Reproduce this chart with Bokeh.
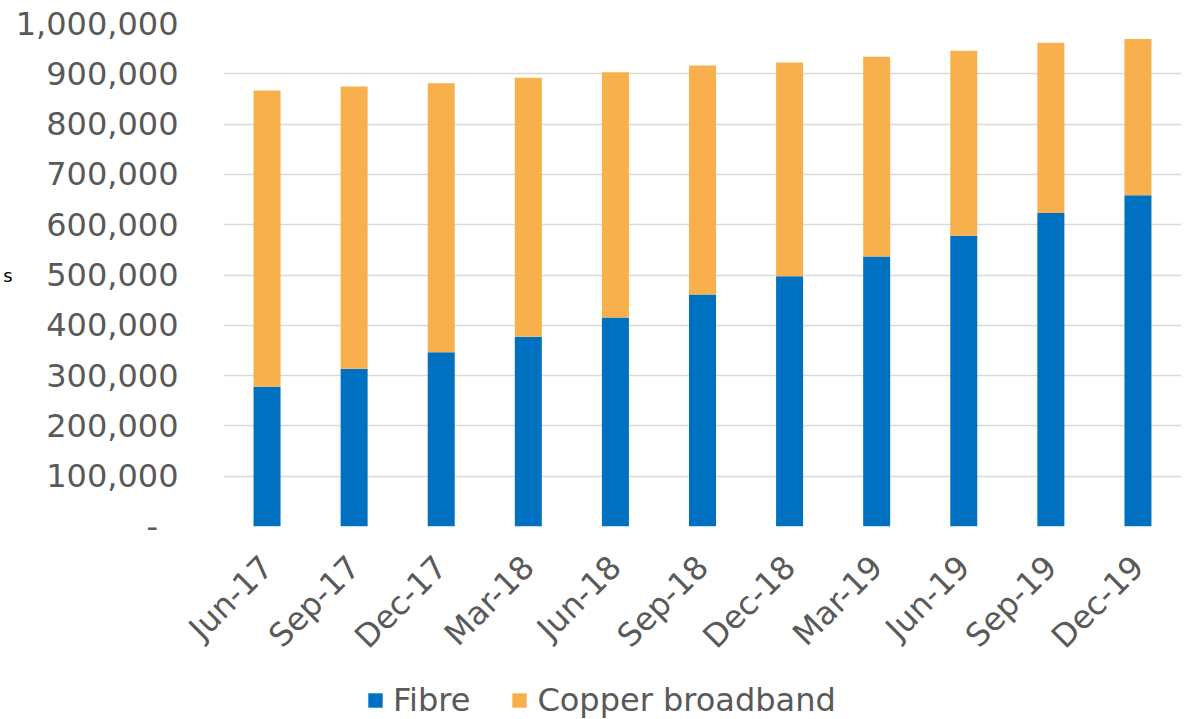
import math
from bokeh.plotting import figure
from bokeh.layouts import column
from bokeh.models import (FactorRange, Range1d, FixedTicker, Legend, LegendItem,
                          ColumnDataSource)
from bokeh.embed import file_html
from bokeh.resources import INLINE

quarters = ["Jun-17", "Sep-17", "Dec-17", "Mar-18", "Jun-18", "Sep-18",
            "Dec-18", "Mar-19", "Jun-19", "Sep-19", "Dec-19"]
fibre = [278000, 313500, 346500, 377000, 415500, 461000,
         497600, 537000, 578000, 623500, 658600]
copper = [589000, 561500, 534500, 515000, 487500, 455500,
          425000, 397000, 368000, 338000, 310400]
y_ticks = [0, 100000, 200000, 300000, 400000, 500000,
           600000, 700000, 800000, 900000, 1000000]
y_tick_labels = ["-\u00a0\u00a0", "100,000", "200,000", "300,000", "400,000", "500,000",
                 "600,000", "700,000", "800,000", "900,000", "1,000,000"]
series_names = ["Fibre", "Copper broadband"]
series_colors = ["#0070C0", "#F7B04B"]

FONT = "DejaVu Sans"
TXT = "#595959"
FS = "32px"

src = ColumnDataSource(dict(quarter=quarters, fibre=fibre, copper=copper))

p = figure(x_range=FactorRange(factors=quarters, range_padding=0),
           y_range=Range1d(0, 1000000),
           width=1191, height=680, output_backend="svg", toolbar_location=None,
           min_border_left=223, min_border_right=10, min_border_top=23,
           min_border_bottom=154)
p.outline_line_color = None
p.background_fill_color = "white"
p.border_fill_color = "white"

rs = p.vbar_stack(["fibre", "copper"], x="quarter", width=0.31,
                  color=series_colors, line_color=None, source=src)

# y axis
p.yaxis.ticker = FixedTicker(ticks=y_ticks)
p.yaxis.major_label_overrides = {t: l for t, l in zip(y_ticks, y_tick_labels)}
p.yaxis.axis_line_color = None
p.yaxis.major_tick_line_color = None
p.yaxis.minor_tick_line_color = None
p.yaxis.major_label_standoff = 39
p.yaxis.major_label_text_font = FONT
p.yaxis.major_label_text_font_size = FS
p.yaxis.major_label_text_color = TXT
p.yaxis.axis_label = "s"
p.yaxis.axis_label_orientation = "horizontal"
p.yaxis.axis_label_standoff = 0
p.yaxis.axis_label_text_font = FONT
p.yaxis.axis_label_text_font_size = "18px"
p.yaxis.axis_label_text_font_style = "normal"
p.yaxis.axis_label_text_color = "#000000"

# x axis
p.xaxis.axis_line_color = None
p.xaxis.major_tick_line_color = None
p.xaxis.minor_tick_line_color = None
p.xaxis.major_label_orientation = math.pi / 4
p.xaxis.major_label_standoff = 29
p.xaxis.major_label_text_font = FONT
p.xaxis.major_label_text_font_size = FS
p.xaxis.major_label_text_color = TXT

p.xgrid.grid_line_color = None
p.ygrid.ticker = FixedTicker(ticks=y_ticks)
p.ygrid.grid_line_color = "#D9D9D9"
p.ygrid.grid_line_width = 1.5

# legend strip (its bars sit far outside its visible y range; only the legend shows)
lg = figure(width=1191, height=39, output_backend="svg", toolbar_location=None,
            x_range=FactorRange(factors=quarters, range_padding=0),
            y_range=Range1d(5000000, 6000000),
            x_axis_location=None, y_axis_location=None,
            min_border=0, min_border_left=0, min_border_right=0,
            min_border_top=0, min_border_bottom=0)
lg.grid.visible = False
lg.outline_line_color = None
lg.border_fill_color = "white"
lg.background_fill_color = "white"
lrs = lg.vbar_stack(["fibre", "copper"], x="quarter", width=0.31,
                    color=series_colors, line_color=None, source=src)
items = [LegendItem(label=name, renderers=[r]) for name, r in zip(series_names, lrs)]

legend = Legend(items=items, orientation="horizontal", location=(143, 0),
                padding=0, margin=0, spacing=40, label_standoff=9,
                glyph_width=18, glyph_height=18,
                label_text_font=FONT, label_text_font_size=FS,
                label_text_color=TXT, border_line_color=None,
                background_fill_alpha=0)
lg.add_layout(legend)

layout = column(p, lg, spacing=0)
open("out.html", "w").write(file_html(layout, INLINE))
